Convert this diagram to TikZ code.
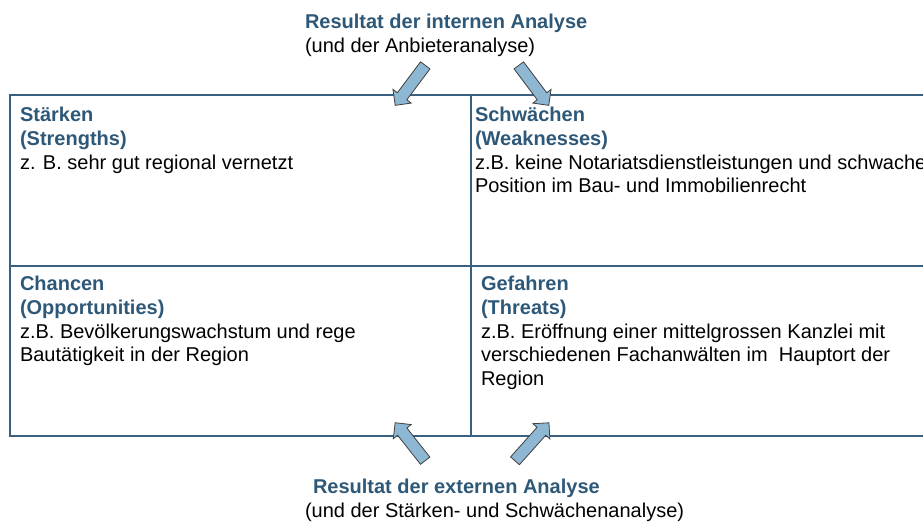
\documentclass[tikz,border=0pt]{standalone}
\usepackage{fontspec}
\setmainfont{Liberation Sans}
\usetikzlibrary{shapes.arrows}
\definecolor{swotblue}{RGB}{46,88,120}
\definecolor{gridline}{RGB}{58,96,128}
\definecolor{arrowfill}{RGB}{141,183,210}
\newcommand\swothd{\bfseries\color{swotblue}}
\begin{document}
\begin{tikzpicture}[x=1pt,y=-1pt,
  every node/.style={font=\fontsize{20}{23.6}\selectfont, inner sep=0pt, outer sep=0pt},
  cell/.style={draw=gridline, line width=2pt, rectangle, anchor=north west},
  celltext/.style={anchor=north west, align=left},
  blockarrow/.style={single arrow, draw=black!75, line width=0.8pt, fill=arrowfill,
    minimum width=22pt, inner sep=5.5pt, single arrow head extend=5.5pt,
    single arrow tip angle=90}
]
\useasboundingbox (0,0) rectangle (923,524);
\clip (0,0) rectangle (923,524);

% SWOT grid
\node[cell, minimum width=461.5pt, minimum height=170.5pt] (S) at (9.5,95) {};
\node[cell, minimum width=480pt, minimum height=170.5pt] (W) at (471,95) {};
\node[cell, minimum width=461.5pt, minimum height=170.5pt] (O) at (9.5,265.5) {};
\node[cell, minimum width=480pt, minimum height=170.5pt] (T) at (471,265.5) {};

% cell texts
\node[celltext] (St) at (20,107.4) {{\swothd Stärken}\\{\swothd (Strengths)}\\z. B. sehr gut regional vernetzt};
\node[celltext] (Wt) at (475,107.4) {{\swothd Schwächen}\\{\swothd (Weaknesses)}\\z.B. keine Notariatsdienstleistungen und schwache\\Position im Bau- und Immobilienrecht};
\node[celltext] (Ot) at (20,276.4) {{\swothd Chancen}\\{\swothd (Opportunities)}\\z.B. Bevölkerungswachstum und rege\\Bautätigkeit in der Region};
\node[celltext] (Tt) at (481,276.4) {{\swothd Gefahren}\\{\swothd (Threats)}\\z.B. Eröffnung einer mittelgrossen Kanzlei mit\\verschiedenen Fachanwälten im~ Hauptort der\\Region};

% analysis headings
\node[celltext] (intern) at (305,14.4) {{\swothd Resultat der internen Analyse}\\(und der Anbieteranalyse)};
\node[celltext] (extern) at (305,479.4) {\hspace*{8pt}{\swothd Resultat der externen Analyse}\\(und der Stärken- und Schwächenanalyse)};

% block arrows
\node[blockarrow, minimum height=50pt, rotate=233.13] (a1) at (412,83) {};
\node[blockarrow, minimum height=50pt, rotate=-53.13] (a2) at (532,83) {};
\node[blockarrow, minimum height=48.4pt, rotate=128.3] (a3) at (412,444) {};
\node[blockarrow, minimum height=51pt, rotate=48.2] (a4) at (530,444) {};
\end{tikzpicture}
\end{document}
